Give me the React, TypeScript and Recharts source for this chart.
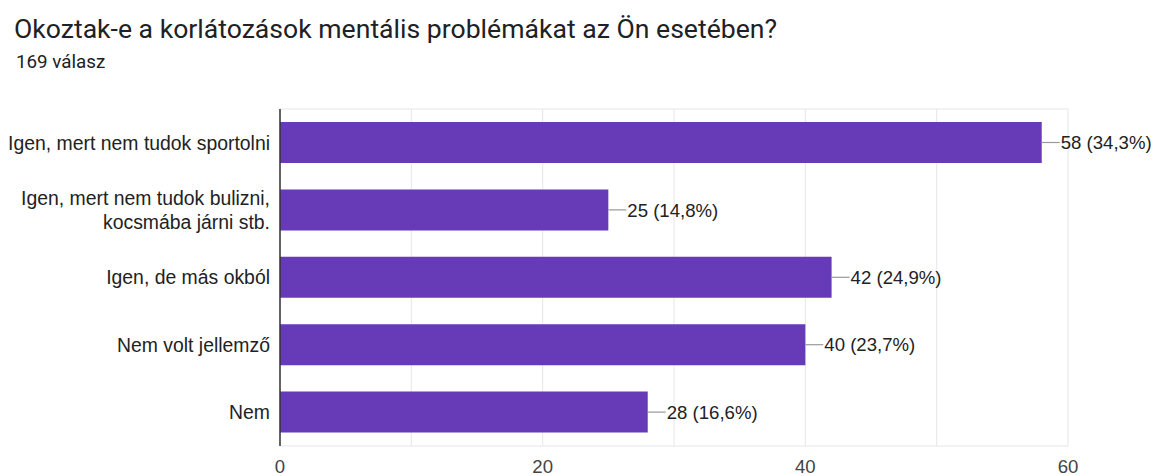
import React from 'react';
import { BarChart, Bar, XAxis, YAxis, CartesianGrid, LabelList } from 'recharts';

const categories = [
  'Igen, mert nem tudok sportolni',
  'Igen, mert nem tudok bulizni,\nkocsmába járni stb.',
  'Igen, de más okból',
  'Nem volt jellemző',
  'Nem',
];
const counts = [58, 25, 42, 40, 28];
const percents = ['34,3%', '14,8%', '24,9%', '23,7%', '16,6%'];
const xTicks = [0, 10, 20, 30, 40, 50, 60];
const labeledTicks = [0, 20, 40, 60];

const title = 'Okoztak-e a korlátozások mentális problémákat az Ön esetében?';
const subtitle = '169 válasz';

const data = categories.map((c, i) => ({ name: c, value: counts[i], pct: percents[i] }));

const FONT = 'Arial, "Liberation Sans", sans-serif';

const YTick = (props: any) => {
  const { x, y, payload } = props;
  const lines = String(payload.value).split('\n');
  const lh = 24;
  const start = y - ((lines.length - 1) * lh) / 2;
  return (
    <text x={x} y={start} textAnchor="end" fontFamily={FONT} fontSize={19.4} fill="#222">
      {lines.map((l, i) => (
        <tspan key={i} x={x} y={start + i * lh} dy="0.36em">
          {l}
        </tspan>
      ))}
    </text>
  );
};

const ValueLabel = (props: any) => {
  const { x, y, width, height, index } = props;
  const ex = x + width;
  const cy = y + height / 2;
  return (
    <g>
      <line x1={ex} y1={cy} x2={ex + 18} y2={cy} stroke="#999" strokeWidth={1.2} />
      <text x={ex + 19} y={cy} dy="0.36em" fontFamily={FONT} fontSize={18.6} fill="#222">
        {`${counts[index]} (${percents[index]})`}
      </text>
    </g>
  );
};

export default function App() {
  return (
    <div style={{ position: 'absolute', left: 0, top: 0, width: 1159, height: 476, background: '#fff' }}>
      <div
        style={{
          position: 'absolute',
          left: 14,
          top: 12,
          fontFamily: 'Roboto, sans-serif',
          fontSize: 26.6,
          color: '#202124',
          whiteSpace: 'nowrap',
          lineHeight: '34px',
        }}
      >
        {title}
      </div>
      <div
        style={{
          position: 'absolute',
          left: 16,
          top: 50,
          fontFamily: 'Roboto, sans-serif',
          fontSize: 18.8,
          color: '#202124',
          whiteSpace: 'nowrap',
          lineHeight: '24px',
        }}
      >
        {subtitle}
      </div>
      <BarChart
        width={1159}
        height={476}
        data={data}
        layout="vertical"
        margin={{ top: 109, right: 91, bottom: 0, left: 0 }}
        barSize={41}
      >
        <CartesianGrid
          stroke="#e6e6e6"
          horizontalCoordinatesGenerator={({ offset }: any) => [offset.top, offset.top + offset.height]}
        />
        <XAxis
          type="number"
          domain={[0, 60]}
          ticks={xTicks}
          interval={0}
          axisLine={false}
          tickLine={false}
          height={30}
          tickMargin={8}
          tick={{ fontFamily: FONT, fontSize: 18.6, fill: '#444' }}
          tickFormatter={(v: number) => (labeledTicks.includes(v) ? String(v) : '')}
        />
        <YAxis
          type="category"
          dataKey="name"
          width={280}
          axisLine={{ stroke: '#333', strokeWidth: 1.5 }}
          tickLine={false}
          tickMargin={4}
          tick={<YTick />}
          interval={0}
        />
        <Bar dataKey="value" fill="#673AB7" isAnimationActive={false}>
          <LabelList dataKey="value" content={<ValueLabel />} />
        </Bar>
      </BarChart>
    </div>
  );
}
